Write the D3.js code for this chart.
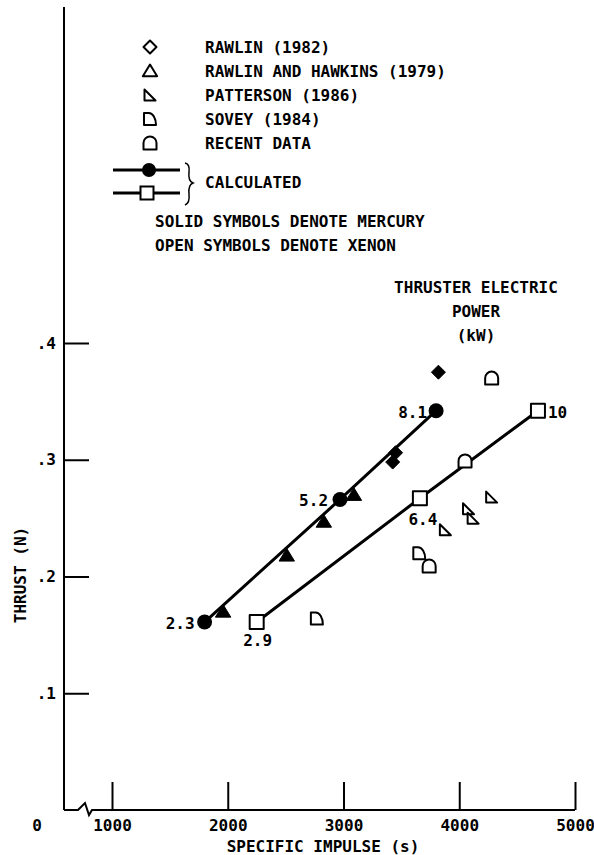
<!DOCTYPE html>
<html>
<head>
<meta charset="utf-8">
<script src="https://cdn.jsdelivr.net/npm/d3@7/dist/d3.min.js"></script>
<style>
  html, body { margin: 0; padding: 0; background: #fff; }
  svg text { font-family: "DejaVu Sans Mono", "Liberation Mono", monospace; font-size: 16px; font-weight: bold; fill: #000; }
</style>
</head>
<body>
<svg id="chart" width="594" height="855"></svg>
<script>
// ---------- data ----------
const xTicks = [1000, 2000, 3000, 4000, 5000];
const xTickLabels = ["1000", "2000", "3000", "4000", "5000"];
const yTicks = [0.1, 0.2, 0.3, 0.4];
const yTickLabels = [".1", ".2", ".3", ".4"];

// Rawlin (1982), mercury (solid diamonds)
const rawlinIsp = [3820, 3450, 3425];
const rawlinThrust = [0.375, 0.306, 0.298];
// Rawlin and Hawkins (1979), mercury (solid triangles)
const rawlinHawkinsIsp = [1960, 2510, 2830, 3090];
const rawlinHawkinsThrust = [0.170, 0.218, 0.247, 0.270];
// Patterson (1986), xenon (open right triangles)
const pattersonIsp = [4280, 4080, 4120, 3880];
const pattersonThrust = [0.268, 0.258, 0.250, 0.240];
// Sovey (1984), xenon
const soveyIsp = [2770, 3655];
const soveyThrust = [0.164, 0.220];
// Recent data, xenon
const recentIsp = [4280, 4050, 3740];
const recentThrust = [0.370, 0.299, 0.209];
// Calculated
const mercuryIsp = [1800, 2970, 3800];
const mercuryThrust = [0.161, 0.266, 0.342];
const mercuryPower = ["2.3", "5.2", "8.1"];
const xenonIsp = [2250, 3660, 4680];
const xenonThrust = [0.161, 0.267, 0.342];
const xenonPower = ["2.9", "6.4", "10"];

const legendLabels = ["RAWLIN (1982)", "RAWLIN AND HAWKINS (1979)", "PATTERSON (1986)", "SOVEY (1984)", "RECENT DATA"];

// ---------- setup ----------
const svg = d3.select("#chart");
const x = d3.scaleLinear().domain([1000, 5000]).range([112, 575]);
const y = d3.scaleLinear().domain([0, 0.4]).range([810, 343]);
const axisX = 64;

const shapes = {
  diamond: s => `M0,${-s}L${s},0L0,${s}L${-s},0Z`,
  triangle: s => `M0,${-s}L${s*1.1},${s*0.8}L${-s*1.1},${s*0.8}Z`,
  rightTri: s => `M${-s},${-s}L${s},${s}L${-s},${s}Z`,
  sovey: s => `M${-s},${s}V${-s}H${-0.2*s}A${1.2*s},${2*s} 0 0 1 ${s},${s}Z`,
  recent: s => `M${-s},${s}V0A${s},${s} 0 0 1 ${s},0V${s}Z`,
  square: s => `M${-s},${-s}H${s}V${s}H${-s}Z`
};

// ---------- axes ----------
const yAxis = d3.axisLeft(y).tickValues(yTicks)
  .tickFormat((d, i) => yTickLabels[i]).tickSizeInner(-25).tickSizeOuter(0).tickPadding(8);
const gy = svg.append("g").attr("transform", `translate(${axisX},0)`).call(yAxis);
gy.select(".domain").remove();
gy.selectAll(".tick line").attr("stroke", "#000").attr("stroke-width", 2);
gy.selectAll(".tick text").style("font-size", "16px").attr("fill", "#000");
svg.append("line").attr("x1", axisX).attr("x2", axisX).attr("y1", 7).attr("y2", y(0))
  .attr("stroke", "#000").attr("stroke-width", 2);

const xAxis = d3.axisBottom(x).tickValues(xTicks)
  .tickFormat((d, i) => xTickLabels[i]).tickSizeInner(-28).tickSizeOuter(0).tickPadding(10);
const gx = svg.append("g").attr("transform", `translate(0,${y(0)})`).call(xAxis);
gx.select(".domain").remove();
gx.selectAll(".tick line").attr("stroke", "#000").attr("stroke-width", 2);
gx.selectAll(".tick text").style("font-size", "16px").attr("fill", "#000");

const by = y(0);
svg.append("path")
  .attr("d", `M${axisX},${by}H78L85,${by-7}L89,${by+5}L92,${by}H${x(5000)}`)
  .attr("fill", "none").attr("stroke", "#000").attr("stroke-width", 2).attr("stroke-linejoin", "miter");
svg.append("text").attr("x", 37).attr("y", by + 10).attr("dy", "0.71em")
  .attr("text-anchor", "middle").text("0");

svg.append("text").attr("x", 323).attr("y", 846).attr("dy", "0.35em")
  .attr("text-anchor", "middle").text("SPECIFIC IMPULSE (s)");
svg.append("text").attr("transform", "translate(20,575) rotate(-90)").attr("dy", "0.35em")
  .attr("text-anchor", "middle").text("THRUST (N)");

// ---------- calculated lines ----------
const line = d3.line().x(d => x(d[0])).y(d => y(d[1]));
const mercury = mercuryIsp.map((v, i) => [v, mercuryThrust[i], mercuryPower[i]]);
const xenon = xenonIsp.map((v, i) => [v, xenonThrust[i], xenonPower[i]]);

// ---------- data symbols ----------
function plot(xs, ys, shape, size, filled) {
  svg.append("g").selectAll("path").data(xs.map((v, i) => [v, ys[i]])).join("path")
    .attr("transform", d => `translate(${x(d[0])},${y(d[1])})`)
    .attr("d", shapes[shape](size))
    .attr("fill", filled ? "#000" : "#fff")
    .attr("stroke", "#000").attr("stroke-width", filled ? 1 : 2).attr("stroke-linejoin", "round");
}
// solid symbols sit under the calculated mercury line
plot(rawlinHawkinsIsp, rawlinHawkinsThrust, "triangle", 7, true);
plot(rawlinIsp, rawlinThrust, "diamond", 7, true);

svg.append("path").datum(mercury).attr("d", line).attr("fill", "none").attr("stroke", "#000").attr("stroke-width", 3);
svg.append("path").datum(xenon).attr("d", line).attr("fill", "none").attr("stroke", "#000").attr("stroke-width", 3);

plot(pattersonIsp, pattersonThrust, "rightTri", 5.5, false);
plot(soveyIsp, soveyThrust, "sovey", 6, false);
plot(recentIsp, recentThrust, "recent", 6.5, false);

svg.append("g").selectAll("circle").data(mercury).join("circle")
  .attr("cx", d => x(d[0])).attr("cy", d => y(d[1])).attr("r", 7.5).attr("fill", "#000");
plot(xenonIsp, xenonThrust, "square", 7, false);

// power labels
const mLabelPos = [[-10, 1, "end"], [-12, 1, "end"], [-9, 2, "end"]];
svg.append("g").selectAll("text").data(mercury).join("text")
  .attr("x", (d, i) => x(d[0]) + mLabelPos[i][0]).attr("y", (d, i) => y(d[1]) + mLabelPos[i][1])
  .attr("dy", "0.35em").attr("text-anchor", (d, i) => mLabelPos[i][2]).text(d => d[2]);
const xLabelPos = [[1, 18, "middle"], [3, 21, "middle"], [10, 2, "start"]];
svg.append("g").selectAll("text").data(xenon).join("text")
  .attr("x", (d, i) => x(d[0]) + xLabelPos[i][0]).attr("y", (d, i) => y(d[1]) + xLabelPos[i][1])
  .attr("dy", "0.35em").attr("text-anchor", (d, i) => xLabelPos[i][2]).text(d => d[2]);

// annotation
["THRUSTER ELECTRIC", "POWER", "(kW)"].forEach((t, i) => {
  svg.append("text").attr("x", 476).attr("y", 287 + i * 24).attr("dy", "0.35em")
    .attr("text-anchor", "middle").text(t);
});

// ---------- legend ----------
const legendShapes = ["diamond", "triangle", "rightTri", "sovey", "recent"];
const legendSizes = [6.5, 6.5, 5.5, 6, 6.5];
legendLabels.forEach((t, i) => {
  const cy = 47 + i * 24;
  svg.append("path").attr("transform", `translate(150,${cy})`).attr("d", shapes[legendShapes[i]](legendSizes[i]))
    .attr("fill", "#fff").attr("stroke", "#000").attr("stroke-width", 2).attr("stroke-linejoin", "round");
  svg.append("text").attr("x", 205).attr("y", cy).attr("dy", "0.35em").text(t);
});
svg.append("line").attr("x1", 113).attr("x2", 180).attr("y1", 170).attr("y2", 170).attr("stroke", "#000").attr("stroke-width", 3);
svg.append("circle").attr("cx", 149).attr("cy", 170).attr("r", 7).attr("fill", "#000");
svg.append("line").attr("x1", 113).attr("x2", 180).attr("y1", 193).attr("y2", 193).attr("stroke", "#000").attr("stroke-width", 3);
svg.append("path").attr("transform", "translate(147,193)").attr("d", shapes.square(6.5))
  .attr("fill", "#fff").attr("stroke", "#000").attr("stroke-width", 2);
svg.append("path")
  .attr("d", "M185,163 Q190,164 189,172 Q188,181 193,183 Q188,185 189,194 Q190,203 185,205")
  .attr("fill", "none").attr("stroke", "#000").attr("stroke-width", 1.5);
svg.append("text").attr("x", 205).attr("y", 182).attr("dy", "0.35em").text("CALCULATED");
svg.append("text").attr("x", 155).attr("y", 221).attr("dy", "0.35em").text("SOLID SYMBOLS DENOTE MERCURY");
svg.append("text").attr("x", 155).attr("y", 245).attr("dy", "0.35em").text("OPEN SYMBOLS DENOTE XENON");
</script>
</body>
</html>
